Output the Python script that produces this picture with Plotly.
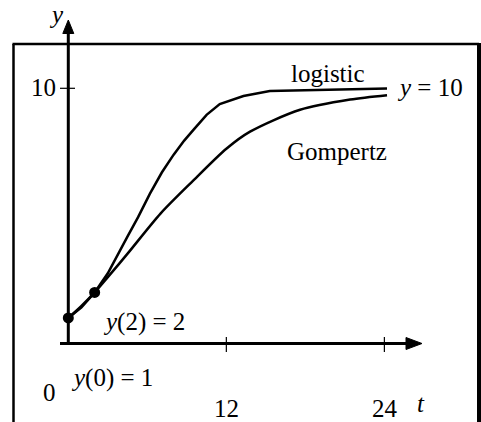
import plotly.graph_objects as go

# ---- data -------------------------------------------------------------
t_logistic = [0, 1, 2, 3, 4.5, 5.3, 6.2, 7.1, 8, 8.8, 9.5, 10.5, 11.5, 13.3, 15.3, 24.2]
y_logistic = [1, 1.42, 2, 2.75, 4.2, 4.95, 5.87, 6.7, 7.4, 7.95, 8.37, 8.96, 9.38, 9.70, 9.89, 9.99]

t_gompertz = [0, 1, 2, 3, 4.5, 7, 9.5, 12, 13.8, 17.6, 21.4, 24.2]
y_gompertz = [1, 1.47, 2, 2.6, 3.52, 5.09, 6.39, 7.63, 8.3, 9.16, 9.56, 9.73]

t_known = [0, 2]          # initial conditions
y_known = [1, 2]

x_tick_vals = [12, 24]
x_tick_text = ["12", "24"]
y_tick_vals = [0, 10]
y_tick_text = ["0", "10"]
carrying_capacity = 10

# ---- geometry ---------------------------------------------------------
W, H = 481, 422
X0_PX, PX_PER_T = 68.3, 13.17      # pixel column of t = 0, pixels per unit t
Y0_PX, PX_PER_Y = 343.5, 25.52     # pixel row of y = 0, pixels per unit y

x_range = [(0 - X0_PX) / PX_PER_T, (W - X0_PX) / PX_PER_T]
y_range = [(Y0_PX - H) / PX_PER_Y, Y0_PX / PX_PER_Y]


def dx(px):
    return (px - X0_PX) / PX_PER_T


def dy(py):
    return (Y0_PX - py) / PX_PER_Y


def px_of_t(t):
    return X0_PX + t * PX_PER_T


def py_of_y(y):
    return Y0_PX - y * PX_PER_Y


FONT = "Liberation Serif"
FS = 25
BLACK = "black"

fig = go.Figure()

fig.add_trace(go.Scatter(x=t_logistic, y=y_logistic, mode="lines",
                         line=dict(color=BLACK, width=2.5), name="logistic",
                         hoverinfo="skip"))
fig.add_trace(go.Scatter(x=t_gompertz, y=y_gompertz, mode="lines",
                         line=dict(color=BLACK, width=2.5, shape="spline", smoothing=0.8),
                         name="Gompertz", hoverinfo="skip"))
fig.add_trace(go.Scatter(x=t_known, y=y_known, mode="markers",
                         marker=dict(color=BLACK, size=11), hoverinfo="skip"))

shapes = []


def seg(x0p, y0p, x1p, y1p, w):
    shapes.append(dict(type="line", xref="x", yref="y",
                       x0=dx(x0p), y0=dy(y0p), x1=dx(x1p), y1=dy(y1p),
                       line=dict(color=BLACK, width=w)))


# frame (open at the bottom)
seg(13.5, 44, 13.5, H + 5, 2.5)
seg(12.5, 44, 479, 44, 2.5)
seg(479, 43, 479, H + 5, 4)

# axes
seg(X0_PX, Y0_PX, X0_PX, 32, 3)
seg(60, Y0_PX, 407, Y0_PX, 3)


# arrow heads
def tri(pts):
    path = "M " + " L ".join(f"{dx(a)},{dy(b)}" for a, b in pts) + " Z"
    shapes.append(dict(type="path", xref="x", yref="y", path=path,
                       fillcolor=BLACK, line=dict(color=BLACK, width=1)))


tri([(X0_PX, 20), (X0_PX - 5.5, 33.5), (X0_PX + 5.5, 33.5)])
tri([(422, Y0_PX), (406, Y0_PX - 6), (406, Y0_PX + 6)])

# ticks
for tv in x_tick_vals:
    seg(px_of_t(tv), 337, px_of_t(tv), 352, 1.2)
for yv in y_tick_vals:
    seg(60, py_of_y(yv), 75 if yv else X0_PX, py_of_y(yv), 1.2)

annotations = []


def label(text, xp, yp, xanchor="center"):
    annotations.append(dict(text=text, x=xp / W, y=1 - yp / H, xref="paper", yref="paper",
                            xanchor=xanchor, yanchor="middle", showarrow=False,
                            font=dict(family=FONT, size=FS, color=BLACK)))


label("<i>y</i>", 56, 14)
label("<i>t</i>", 421, 403)
label(y_tick_text[1], 43, 88)
label(y_tick_text[0], 49, 392)
label(x_tick_text[0], 226.5, 408)
label(x_tick_text[1], 384.5, 408)
label("logistic", 327.5, 73)
label(f"<i>y</i> = {carrying_capacity}", 430, 88)
label("Gompertz", 336.5, 152)
label("<i>y</i>(2) = 2", 143.5, 322)
label("<i>y</i>(0) = 1", 111.5, 378)

fig.update_layout(
    width=W, height=H,
    margin=dict(l=0, r=0, t=0, b=0),
    paper_bgcolor="white", plot_bgcolor="white",
    showlegend=False,
    xaxis=dict(range=x_range, visible=False, fixedrange=True),
    yaxis=dict(range=y_range, visible=False, fixedrange=True),
    shapes=shapes, annotations=annotations,
)

fig.write_html("out.html", config={"displayModeBar": False})
